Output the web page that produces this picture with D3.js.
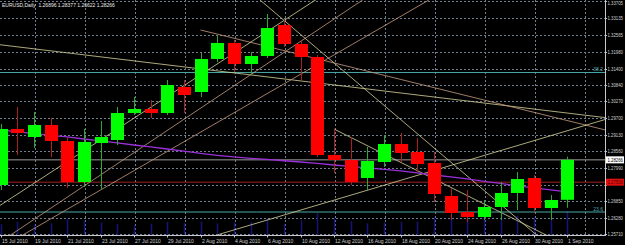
<!DOCTYPE html>
<html>
<head>
<meta charset="utf-8">
<script src="https://cdn.jsdelivr.net/npm/d3@7"></script>
<style>
  html, body { margin: 0; padding: 0; background: #000; }
  svg { display: block; }
  text { font-family: "Liberation Sans", Arial, sans-serif; }
</style>
</head>
<body>
<div id="chart"></div>
<script>
const WIDTH = 625;
const HEIGHT = 245;

// daily bars, EURUSD
const dates = ['15 Jul 2010', '16 Jul 2010', '19 Jul 2010', '20 Jul 2010', '21 Jul 2010', '22 Jul 2010', '23 Jul 2010',
    '26 Jul 2010', '27 Jul 2010', '28 Jul 2010', '29 Jul 2010', '30 Jul 2010', '2 Aug 2010', '3 Aug 2010', '4 Aug 2010',
    '5 Aug 2010', '6 Aug 2010', '9 Aug 2010', '10 Aug 2010', '11 Aug 2010', '12 Aug 2010', '13 Aug 2010', '16 Aug 2010',
    '17 Aug 2010', '18 Aug 2010', '19 Aug 2010', '20 Aug 2010', '23 Aug 2010', '24 Aug 2010', '25 Aug 2010', '26 Aug 2010',
    '27 Aug 2010', '30 Aug 2010', '31 Aug 2010', '1 Sep 2010'];
const open = [1.27403, 1.29325, 1.29050, 1.29462, 1.28913, 1.27506, 1.28844, 1.28947, 1.29873, 1.30011, 1.29873, 1.30765,
    1.30594, 1.31726, 1.32275, 1.31554, 1.31829, 1.32892, 1.32240, 1.31795, 1.28433, 1.28261, 1.27644, 1.28192, 1.28810,
    1.28536, 1.28158, 1.27026, 1.26477, 1.26306, 1.26649, 1.27129, 1.27644, 1.26614, 1.26896];
const high = [1.29496, 1.30079, 1.29908, 1.29702, 1.29016, 1.29325, 1.29599, 1.30079, 1.30422, 1.30319, 1.31005, 1.31005,
    1.31932, 1.32549, 1.32378, 1.31966, 1.33270, 1.33064, 1.32378, 1.31863, 1.29325, 1.29050, 1.28707, 1.29119, 1.29187,
    1.29016, 1.28536, 1.27300, 1.27232, 1.26889, 1.27506, 1.27849, 1.27747, 1.27060, 1.28377];
const low = [1.27232, 1.28433, 1.28673, 1.28364, 1.27300, 1.27335, 1.27232, 1.28776, 1.29805, 1.29702, 1.29805, 1.29873,
    1.30422, 1.31620, 1.31280, 1.31177, 1.31760, 1.32138, 1.31005, 1.28364, 1.27815, 1.27403, 1.27232, 1.28021, 1.28192,
    1.27849, 1.26820, 1.26203, 1.26134, 1.26203, 1.26203, 1.26546, 1.26477, 1.26203, 1.26622];
const close = [1.29325, 1.29187, 1.29462, 1.28913, 1.27506, 1.28879, 1.29050, 1.29873, 1.30011, 1.29873, 1.30834, 1.30491,
    1.31726, 1.32275, 1.31554, 1.31829, 1.32789, 1.32240, 1.31795, 1.28433, 1.28261, 1.27506, 1.28227, 1.28810, 1.28501,
    1.28124, 1.27095, 1.26443, 1.26306, 1.26649, 1.27129, 1.27609, 1.26614, 1.26889, 1.28266];
const volume = [40, 48, 38, 44, 58, 54, 46, 40, 36, 42, 48, 45, 50, 44, 46, 48, 60, 42, 54, 80, 62, 52, 44, 46, 48,
    50, 66, 70, 82, 80, 74, 70, 64, 68, 86];
// purple moving average
const ma = [1.29291, 1.29229, 1.29171, 1.29109, 1.29051, 1.28982, 1.28914, 1.28845, 1.28776, 1.28708, 1.28639, 1.28564,
    1.28485, 1.28423, 1.28365, 1.28320, 1.28279, 1.28235, 1.28193, 1.28142, 1.28090, 1.28039, 1.27988, 1.27936, 1.27885,
    1.27816, 1.27747, 1.27679, 1.27610, 1.27531, 1.27456, 1.27377, 1.27302, 1.27233, 1.27164];

const priceTicks = [1.33705, 1.33135, 1.32565, 1.31980, 1.31400, 1.30840, 1.30270, 1.29700, 1.29130, 1.28560, 1.27990,
    1.27420, 1.26850, 1.26280, 1.25710];
const lastPrice = 1.28266;
const alertPrice = 1.27500;
const fibLevels = [{ name: '38.2', price: 1.31263 }, { name: '23.6', price: 1.26477 }];

// trend lines: bar index + price at both ends
const trendLines = [
    { i1: -1, p1: 1.32282, i2: 37, p2: 1.29665, color: '#d8d49a' },
    { i1: 12, p1: 1.32721, i2: 37, p2: 1.29190, color: '#c89c84' },
    { i1: -1, p1: 1.26341, i2: 19, p2: 1.33791, color: '#d8d49a' },
    { i1: -0.29, p1: 1.25345, i2: 21.72, p2: 1.33750, color: '#c89c84' },
    { i1: 0.3, p1: 1.25345, i2: 25.7, p2: 1.33750, color: '#c89c84' },
    { i1: 15.57, p1: 1.33750, i2: 32.86, p2: 1.25345, color: '#d8d49a' },
    { i1: 12, p1: 1.25521, i2: 37, p2: 1.29775, color: '#d8d49a' },
    { i1: 20, p1: 1.29325, i2: 33, p2: 1.25610, color: '#d8d49a' }
];

const plotRight = 605;
const plotBottom = 235.5;
const FONT = 5;

const x = d3.scaleLinear().domain([0, 34]).range([0.5, 567.3]);
const y = d3.scaleLinear().domain([1.3375, 1.25345]).range([0, 245]);
const vy = d3.scaleLinear().domain([0, 100]).range([plotBottom, plotBottom - 28]);

const svg = d3.select('#chart').append('svg')
    .attr('width', WIDTH)
    .attr('height', HEIGHT);

svg.append('rect').attr('width', WIDTH).attr('height', HEIGHT).attr('fill', '#000');

svg.append('defs').append('clipPath').attr('id', 'plot')
    .append('rect').attr('x', 0).attr('y', 0).attr('width', plotRight).attr('height', plotBottom);

const plot = svg.append('g').attr('clip-path', 'url(#plot)');

// grid
plot.append('g').selectAll('line')
    .data(priceTicks)
    .enter().append('line')
    .attr('x1', 0).attr('x2', plotRight)
    .attr('y1', d => Math.round(y(d)) + 0.5).attr('y2', d => Math.round(y(d)) + 0.5)
    .attr('stroke', '#6f7f8f').attr('stroke-dasharray', '2,2');
plot.append('g').selectAll('line')
    .data(d3.range(2, 37, 3))
    .enter().append('line')
    .attr('x1', d => Math.round(x(d)) + 1.5).attr('x2', d => Math.round(x(d)) + 1.5)
    .attr('y1', 0).attr('y2', plotBottom)
    .attr('stroke', '#6f7f8f').attr('stroke-dasharray', '2,2');

// volumes
plot.append('g').selectAll('line')
    .data(volume)
    .enter().append('line')
    .attr('x1', (d, i) => Math.round(x(i)) + 0.5).attr('x2', (d, i) => Math.round(x(i)) + 0.5)
    .attr('y1', plotBottom).attr('y2', d => vy(d))
    .attr('stroke', '#14147a').attr('stroke-width', 1.5);

// horizontal levels
fibLevels.forEach(f => {
    plot.append('line')
        .attr('x1', 0).attr('x2', plotRight)
        .attr('y1', y(f.price)).attr('y2', y(f.price))
        .attr('stroke', '#4aa8a8');
    plot.append('text')
        .attr('x', 603).attr('y', y(f.price) - 1.5)
        .attr('text-anchor', 'end')
        .attr('font-size', FONT)
        .attr('fill', '#4aa8a8')
        .text(f.name);
});
plot.append('line')
    .attr('x1', 0).attr('x2', plotRight)
    .attr('y1', y(lastPrice)).attr('y2', y(lastPrice))
    .attr('stroke', '#9a9a9a');
plot.append('line')
    .attr('x1', 0).attr('x2', plotRight)
    .attr('y1', y(alertPrice)).attr('y2', y(alertPrice))
    .attr('stroke', '#a02020');

// trend lines
plot.append('g').selectAll('line')
    .data(trendLines)
    .enter().append('line')
    .attr('x1', d => x(d.i1)).attr('y1', d => y(d.p1))
    .attr('x2', d => x(d.i2)).attr('y2', d => y(d.p2))
    .attr('stroke', d => d.color)
    .attr('stroke-width', 0.8);

// moving average
plot.append('path')
    .datum(ma)
    .attr('fill', 'none')
    .attr('stroke', '#9b30d8')
    .attr('stroke-width', 1.3)
    .attr('d', d3.line().x((d, i) => x(i)).y(d => y(d)));

// candles
const bars = dates.map((d, i) => ({ i: i, o: open[i], h: high[i], l: low[i], c: close[i] }));
plot.append('g').selectAll('line')
    .data(bars)
    .enter().append('line')
    .attr('x1', d => Math.round(x(d.i)) + 0.5).attr('x2', d => Math.round(x(d.i)) + 0.5)
    .attr('y1', d => y(d.h)).attr('y2', d => y(d.l))
    .attr('stroke', d => d.c >= d.o ? '#2fa82f' : '#a82020');
plot.append('g').selectAll('rect')
    .data(bars)
    .enter().append('rect')
    .attr('x', d => Math.round(x(d.i)) - 6)
    .attr('width', 13)
    .attr('y', d => y(Math.max(d.o, d.c)))
    .attr('height', d => Math.max(1, Math.abs(y(d.o) - y(d.c))))
    .attr('fill', d => d.c >= d.o ? '#00ff00' : '#ff0000');

// axes
svg.append('line')
    .attr('x1', plotRight + 0.5).attr('x2', plotRight + 0.5)
    .attr('y1', 0).attr('y2', plotBottom)
    .attr('stroke', '#c8c8c8');
svg.append('line')
    .attr('x1', 0).attr('x2', plotRight + 1)
    .attr('y1', plotBottom).attr('y2', plotBottom)
    .attr('stroke', '#c8c8c8');

const yLabels = svg.append('g');
yLabels.selectAll('line')
    .data(priceTicks)
    .enter().append('line')
    .attr('x1', plotRight).attr('x2', plotRight + 2)
    .attr('y1', d => Math.round(y(d)) + 0.5).attr('y2', d => Math.round(y(d)) + 0.5)
    .attr('stroke', '#c8c8c8');
yLabels.selectAll('text')
    .data(priceTicks.filter(d => d !== 1.27420))
    .enter().append('text')
    .attr('x', 607.5)
    .attr('y', d => Math.max(4.5, y(d) + 2))
    .attr('font-size', FONT)
    .attr('textLength', 15.5)
    .attr('lengthAdjust', 'spacingAndGlyphs')
    .attr('fill', '#d0d0d0')
    .text(d => d.toFixed(5));

// price boxes
const boxes = [{ p: lastPrice, bg: '#ffffff', fg: '#000000' }, { p: alertPrice, bg: '#e01010', fg: '#500000' }];
boxes.forEach(b => {
    svg.append('rect')
        .attr('x', 606).attr('y', y(b.p) - 3.5)
        .attr('width', 18).attr('height', 7)
        .attr('fill', b.bg);
    svg.append('text')
        .attr('x', 607.5).attr('y', y(b.p) + 2)
        .attr('font-size', FONT)
        .attr('textLength', 15.5)
        .attr('lengthAdjust', 'spacingAndGlyphs')
        .attr('fill', b.fg)
        .text(b.p.toFixed(5));
});

// date labels
const xLabels = svg.append('g');
const labelIdx = d3.range(0, 35, 2);
xLabels.selectAll('line')
    .data(labelIdx)
    .enter().append('line')
    .attr('x1', d => Math.round(x(d)) + 0.5).attr('x2', d => Math.round(x(d)) + 0.5)
    .attr('y1', plotBottom).attr('y2', plotBottom + 2)
    .attr('stroke', '#c8c8c8');
xLabels.selectAll('text')
    .data(labelIdx)
    .enter().append('text')
    .attr('x', d => Math.round(x(d)) + 1)
    .attr('y', 242.5)
    .attr('font-size', FONT)
    .attr('fill', '#d0d0d0')
    .text(d => dates[d]);

// header
svg.append('text')
    .attr('x', 2).attr('y', 7)
    .attr('font-size', FONT)
    .attr('fill', '#e8e8e8')
    .attr('xml:space', 'preserve')
    .text('EURUSD,Daily  ' + [open[34], high[34], low[34], close[34]].map(d => d.toFixed(5)).join(' '));
</script>
</body>
</html>
